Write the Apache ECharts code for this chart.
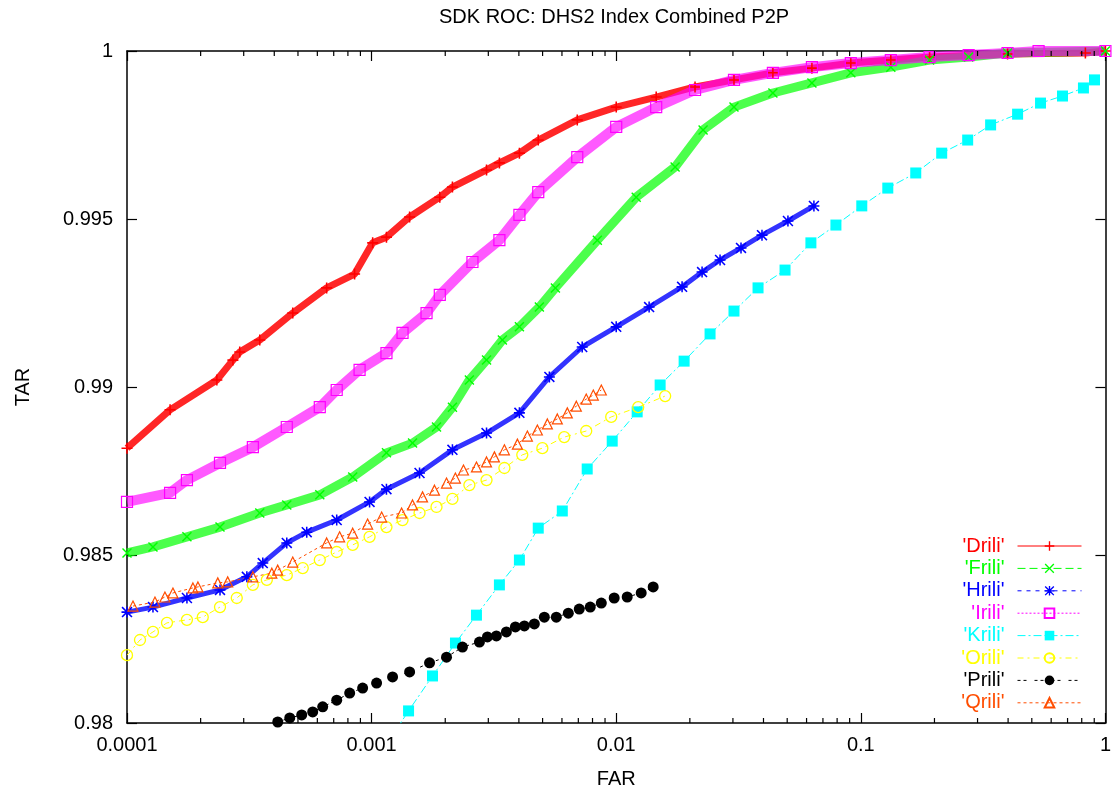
<!DOCTYPE html>
<html><head><meta charset="utf-8">
<script src="https://cdn.jsdelivr.net/npm/echarts@6/dist/echarts.min.js"></script>
<style>html,body{margin:0;padding:0;background:#fff}#c{width:1114px;height:796px}</style>
</head><body><div id="c"></div>
<script>
// ---- data ----
const titleText = 'SDK ROC: DHS2 Index Combined P2P';
const xName = 'FAR';
const yName = 'TAR';
const xTickLabels = ['0.0001', '0.001', '0.01', '0.1', '1'];
const yTickLabels = ['0.98', '0.985', '0.99', '0.995', '1'];
const seriesNames = ["'Drili'", "'Frili'", "'Hrili'", "'Irili'", "'Krili'", "'Orili'", "'Prili'", "'Qrili'"];

const driliFar = [1.00e-4,1.50e-4,2.33e-4,2.71e-4,2.89e-4,3.49e-4,4.76e-4,6.55e-4,8.52e-4,1.01e-3,1.15e-3,1.43e-3,1.90e-3,2.14e-3,2.95e-3,3.33e-3,4.02e-3,4.80e-3,6.93e-3,0.0100,0.01457,0.0210,0.0303,0.0437,0.0631,0.0910,0.1326,0.191,0.398,0.828,1.0];
const driliTar = [0.98818,0.98932,0.99021,0.99080,0.99104,0.99140,0.99220,0.99295,0.99336,0.99429,0.99446,0.99506,0.99565,0.99595,0.99646,0.99667,0.99696,0.99735,0.99795,0.99833,0.99863,0.99893,0.99914,0.99935,0.99949,0.99964,0.99973,0.99982,0.99991,0.99994,1.0];

const friliFar = [1.0e-4,1.277e-4,1.758e-4,2.40e-4,3.49e-4,4.50e-4,6.14e-4,8.37e-4,1.15e-3,1.47e-3,1.842e-3,2.14e-3,2.51e-3,2.95e-3,3.424e-3,4.02e-3,4.85e-3,5.64e-3,8.37e-3,0.01207,0.01741,0.02265,0.0303,0.0437,0.0631,0.0910,0.1326,0.191,0.276,0.398,1.0];
const friliTar = [0.98506,0.98524,0.98554,0.98583,0.98625,0.98649,0.98679,0.98732,0.98804,0.98833,0.98881,0.98940,0.99021,0.99080,0.99140,0.99179,0.99238,0.99295,0.99437,0.99565,0.99655,0.99765,0.99833,0.99875,0.99905,0.99935,0.99952,0.99973,0.99982,0.99994,1.0];

const hriliFar = [1.0e-4,1.277e-4,1.758e-4,2.40e-4,3.09e-4,3.59e-4,4.50e-4,5.43e-4,7.20e-4,9.81e-4,1.15e-3,1.57e-3,2.14e-3,2.95e-3,4.02e-3,5.33e-3,7.26e-3,0.0100,0.01363,0.01859,0.02244,0.02658,0.03237,0.03944,0.05035,0.0643];
const hriliTar = [0.98330,0.98345,0.98372,0.98396,0.98435,0.98476,0.98536,0.98568,0.98604,0.98658,0.98696,0.98744,0.98813,0.98863,0.98923,0.99030,0.99119,0.99179,0.99238,0.99298,0.99342,0.99378,0.99414,0.99452,0.99494,0.99539];

const iriliFar = [1.0e-4,1.50e-4,1.758e-4,2.40e-4,3.27e-4,4.50e-4,6.14e-4,7.20e-4,8.93e-4,1.15e-3,1.338e-3,1.677e-3,1.90e-3,2.584e-3,3.33e-3,4.02e-3,4.80e-3,6.93e-3,0.0100,0.01457,0.0210,0.0303,0.0437,0.0631,0.0910,0.1326,0.191,0.276,0.398,0.533,1.0];
const iriliTar = [0.98658,0.98685,0.98723,0.98774,0.98821,0.98881,0.98940,0.98991,0.99051,0.99101,0.99161,0.99220,0.99274,0.99372,0.99437,0.99512,0.99580,0.99684,0.99774,0.99833,0.99884,0.99914,0.99935,0.99952,0.99964,0.99973,0.99982,0.99988,0.99994,1.0,1.0];

const kriliFar = [1.141e-3,1.416e-3,1.774e-3,2.202e-3,2.683e-3,3.33e-3,4.02e-3,4.80e-3,6.02e-3,7.61e-3,9.63e-3,0.01218,0.01512,0.01895,0.02419,0.0303,0.0380,0.0490,0.0625,0.0791,0.1009,0.1289,0.1677,0.2141,0.2734,0.3393,0.4374,0.5428,0.6675,0.813,0.902];
const kriliTar = [0.97932,0.98036,0.98140,0.98238,0.98321,0.98411,0.98485,0.98580,0.98631,0.98756,0.98839,0.98926,0.99006,0.99077,0.99158,0.99226,0.99295,0.99348,0.99429,0.99482,0.99539,0.99592,0.99637,0.99696,0.99735,0.99780,0.99812,0.99845,0.99866,0.99890,0.99914];

const oriliFar = [1.0e-4,1.13e-4,1.277e-4,1.457e-4,1.758e-4,2.04e-4,2.40e-4,2.81e-4,3.27e-4,3.73e-4,4.50e-4,5.23e-4,6.14e-4,7.20e-4,8.37e-4,9.81e-4,1.15e-3,1.338e-3,1.57e-3,1.842e-3,2.14e-3,2.51e-3,2.95e-3,3.49e-3,4.13e-3,4.99e-3,6.13e-3,7.54e-3,9.54e-3,0.0123,0.01585];
const oriliTar = [0.98202,0.98247,0.98271,0.98298,0.98307,0.98315,0.98345,0.98372,0.98411,0.98426,0.98440,0.98461,0.98485,0.98509,0.98530,0.98554,0.98583,0.98604,0.98625,0.98643,0.98667,0.98708,0.98723,0.98759,0.98798,0.98818,0.98851,0.98869,0.98911,0.98940,0.98973];

const priliFar = [4.133e-4,4.627e-4,5.179e-4,5.743e-4,6.31e-4,7.20e-4,8.134e-4,9.19e-4,1.048e-3,1.218e-3,1.43e-3,1.725e-3,2.024e-3,2.352e-3,2.759e-3,2.975e-3,3.237e-3,3.556e-3,3.871e-3,4.212e-3,4.627e-3,5.083e-3,5.69e-3,6.37e-3,7.06e-3,7.83e-3,8.69e-3,9.81e-3,0.01109,0.01265,0.01416];
const priliTar = [0.98003,0.98015,0.98024,0.98033,0.98048,0.98068,0.98089,0.98104,0.98119,0.98137,0.98152,0.98179,0.98196,0.98226,0.98241,0.98256,0.98259,0.98271,0.98286,0.98289,0.98295,0.98315,0.98315,0.98327,0.98339,0.98345,0.98357,0.98372,0.98375,0.98387,0.98405];

const qriliFar = [1.058e-4,1.301e-4,1.429e-4,1.541e-4,1.86e-4,1.95e-4,2.35e-4,2.58e-4,3.27e-4,3.91e-4,4.13e-4,4.76e-4,6.55e-4,7.40e-4,8.37e-4,9.63e-4,1.099e-3,1.326e-3,1.470e-3,1.615e-3,1.807e-3,2.024e-3,2.20e-3,2.374e-3,2.683e-3,2.95e-3,3.177e-3,3.49e-3,3.944e-3,4.333e-3,4.76e-3,5.23e-3,5.744e-3,6.31e-3,6.87e-3,7.54e-3,8.06e-3,8.69e-3];
const qriliTar = [0.98348,0.98360,0.98375,0.98387,0.98402,0.98405,0.98417,0.98420,0.98435,0.98446,0.98455,0.98479,0.98536,0.98554,0.98565,0.98592,0.98613,0.98625,0.98649,0.98673,0.98693,0.98714,0.98729,0.98753,0.98762,0.98777,0.98792,0.98813,0.98830,0.98854,0.98872,0.98890,0.98905,0.98923,0.98943,0.98964,0.98976,0.98991];

// ---- styling ----
const FONT = 'Liberation Sans, Arial, Helvetica, sans-serif';
const PLUS = 'path://M4.3,0H5.7V4.3H10V5.7H5.7V10H4.3V5.7H0V4.3H4.3Z';
const CROSS = 'path://M1,0L5,4L9,0L10,1L6,5L10,9L9,10L5,6L1,10L0,9L4,5L0,1Z';
const STAR = 'path://M4.3,0H5.7V4.3H10V5.7H5.7V10H4.3V5.7H0V4.3H4.3Z M1,0L5,4L9,0L10,1L6,5L10,9L9,10L5,6L1,10L0,9L4,5L0,1Z';
const CLEAR = 'rgba(0,0,0,0)';

const styles = [
  {color:'#ff0000', symbol:PLUS,  size:11, fill:'#ff0000', bw:0,   lw:7, op:0.85, dash:'solid', legendDash:'solid'},
  {color:'#00ff00', symbol:CROSS, size:10, fill:'#00ff00', bw:0,   lw:9, op:0.7, dash:'solid', legendDash:[8,4]},
  {color:'#0000ff', symbol:STAR,  size:11, fill:'#0000ff', bw:0,   lw:5, op:0.8, dash:'solid', legendDash:[4,5]},
  {color:'#ff00ff', symbol:'rect', size:11, fill:CLEAR,   bw:1.2, lw:10, op:0.65, dash:'solid', legendDash:[2,2]},
  {color:'#00ffff', symbol:'rect', size:11, fill:'#00ffff', bw:0, lw:1, op:1, dash:[8,3,2,3], legendDash:[8,3,2,3]},
  {color:'#ffff00', symbol:'circle', size:11, fill:CLEAR, bw:1.3, lw:1, op:1, dash:[6,4,2,4], legendDash:[6,4,2,4]},
  {color:'#000000', symbol:'circle', size:11, fill:'#000000', bw:0, lw:1, op:1, dash:[3,3,3,8], legendDash:[3,3,3,8]},
  {color:'#ff4d00', symbol:'triangle', size:10, fill:CLEAR, bw:1.2, lw:1, op:1, dash:[3,3], legendDash:[3,3]}
];
const fars = [driliFar, friliFar, hriliFar, iriliFar, kriliFar, oriliFar, priliFar, qriliFar];
const tars = [driliTar, friliTar, hriliTar, iriliTar, kriliTar, oriliTar, priliTar, qriliTar];

const minorTickValues = [];
[1e-4, 1e-3, 1e-2, 1e-1].forEach(d => { for (let k = 2; k <= 9; k++) minorTickValues.push(+(k * d).toPrecision(2)); });

const lineSeries = seriesNames.map((name, i) => {
  const s = styles[i];
  return {
    type: 'line', name, xAxisIndex: 0, yAxisIndex: 0,
    data: fars[i].map((f, j) => [f, tars[i][j]]),
    symbol: s.symbol, symbolSize: s.size, showSymbol: true, clip: true,
    lineStyle: {color: s.color, width: s.lw, type: s.dash, opacity: s.op},
    itemStyle: {color: s.fill, borderColor: s.color, borderWidth: s.bw},
    emphasis: {disabled: true}, animation: false
  };
});

const tickSeries = {
  type: 'custom', xAxisIndex: 0, yAxisIndex: 0, silent: true, clip: false, z: 10, animation: false,
  data: minorTickValues.map(v => [v, 0.98]),
  renderItem: (params, api) => {
    const v = api.value(0);
    const b = api.coord([v, 0.98]);
    const t = api.coord([v, 1]);
    return {type: 'group', children: [
      {type: 'line', shape: {x1: b[0], y1: b[1], x2: b[0], y2: b[1] - 5}, style: {stroke: '#000', lineWidth: 1.2}},
      {type: 'line', shape: {x1: t[0], y1: t[1], x2: t[0], y2: t[1] + 5}, style: {stroke: '#000', lineWidth: 1.2}}
    ]};
  }
};

const legends = seriesNames.map((name, i) => ({
  data: [{name, textStyle: {color: styles[i].color}}],
  orient: 'vertical', right: 32, top: 536 + i * 22.4, align: 'right',
  itemWidth: 64, itemHeight: 12, padding: 0, selectedMode: false,
  textStyle: {fontSize: 20, fontFamily: FONT, color: styles[i].color, padding: [0, 8, 0, 0]},
  lineStyle: {width: 1, type: styles[i].legendDash, opacity: 1}
}));

const axisLine = {show: true, lineStyle: {color: '#000', width: 1.5}};
const option = {
  backgroundColor: '#fff',
  animation: false,
  title: {text: titleText, left: 434, top: 2, textStyle: {fontSize: 20, fontWeight: 'normal', fontFamily: FONT, color: '#000'}},
  legend: legends,
  grid: {left: 127, right: 8, top: 51, bottom: 73, containLabel: false},
  xAxis: [
    {type: 'log', logBase: 10, min: 1e-4, max: 1, position: 'bottom',
     name: xName, nameLocation: 'middle', nameGap: 46,
     nameTextStyle: {fontSize: 20, fontFamily: FONT, color: '#000'},
     axisLine, axisTick: {show: true, inside: true, length: 10, lineStyle: {color: '#000', width: 1.2}},
     axisLabel: {fontSize: 20, fontFamily: FONT, color: '#000', margin: 12,
       formatter: v => xTickLabels[Math.round(Math.log10(v)) + 4]},
     splitLine: {show: false}, minorTick: {show: false}},
    {type: 'log', logBase: 10, min: 1e-4, max: 1, position: 'top',
     axisLine, axisTick: {show: true, inside: true, length: 10, lineStyle: {color: '#000', width: 1.2}},
     axisLabel: {show: false}, splitLine: {show: false}}
  ],
  yAxis: [
    {type: 'value', min: 0.98, max: 1, interval: 0.005, position: 'left',
     name: yName, nameLocation: 'middle', nameGap: 94, nameRotate: 90,
     nameTextStyle: {fontSize: 20, fontFamily: FONT, color: '#000'},
     axisLine, axisTick: {show: true, inside: true, length: 10, lineStyle: {color: '#000', width: 1.2}},
     axisLabel: {fontSize: 20, fontFamily: FONT, color: '#000', margin: 14,
       formatter: v => yTickLabels[Math.round((v - 0.98) / 0.005)]},
     splitLine: {show: false}},
    {type: 'value', min: 0.98, max: 1, interval: 0.005, position: 'right',
     axisLine, axisTick: {show: true, inside: true, length: 10, lineStyle: {color: '#000', width: 1.2}},
     axisLabel: {show: false}, splitLine: {show: false}}
  ],
  series: [...lineSeries, tickSeries]
};
const chart = echarts.init(document.getElementById('c'), null, {renderer: 'canvas'});
chart.setOption(option);
</script></body></html>
